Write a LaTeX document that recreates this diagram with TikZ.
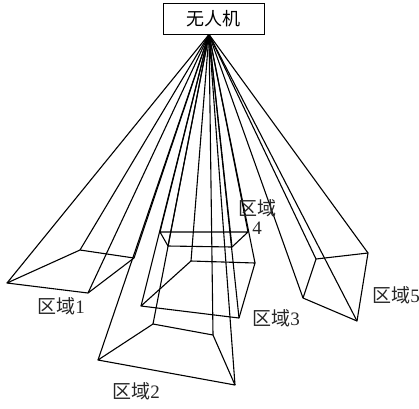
\documentclass[tikz,border=0pt]{standalone}
\usepackage{fontspec}
\newfontfamily\cjk{Noto Sans CJK SC}
\setmainfont{Liberation Serif}
\tikzset{
  edge/.style={draw=black,line width=1.1pt,line join=round},
  dronebox/.style={draw=black,line width=1pt,minimum width=101pt,minimum height=31pt,inner sep=0pt,font=\cjk\fontsize{18}{20}\selectfont},
  lab/.style={inner sep=0pt,font=\fontsize{19}{22}\selectfont,text=black!85}
}
\begin{document}
\begin{tikzpicture}[x=1pt,y=-1pt]
\useasboundingbox (0,0) rectangle (419,408);
\node[dronebox] (drone) at (213.5,18.5) {无人机};
\coordinate (apex) at (209,34.5);
% region 1
\coordinate (a1) at (7,283);
\coordinate (a2) at (88,293);
\coordinate (a3) at (134,258);
\coordinate (a4) at (80,250);
% region 2
\coordinate (b1) at (98,360);
\coordinate (b2) at (235,385);
\coordinate (b3) at (213,335);
\coordinate (b4) at (153,324);
% region 3
\coordinate (c1) at (141,306);
\coordinate (c2) at (239,318);
\coordinate (c3) at (255,263);
\coordinate (c4) at (191,261);
% region 4
\coordinate (d1) at (160,232);
\coordinate (d2) at (248,232);
\coordinate (d3) at (232,247);
\coordinate (d4) at (168,246);
% region 5
\coordinate (e1) at (303,298);
\coordinate (e2) at (357,321);
\coordinate (e3) at (368,253);
\coordinate (e4) at (316,259);
\foreach \r in {a,b,c,d,e}{
  \draw[edge] (\r1) -- (\r2) -- (\r3) -- (\r4) -- cycle;
  \foreach \i in {1,2,3,4}{
    \draw[edge] (apex) -- (\r\i);
  }
}
\node[lab] (l1) at (61,306) {{\cjk 区域}1};
\node[lab] (l2) at (136,391) {{\cjk 区域}2};
\node[lab] (l3) at (276,318) {{\cjk 区域}3};
\node[lab] (l4) at (257,208) {\cjk 区域};
\node[lab] (l4b) at (257,228) {4};
\node[lab] (l5) at (396,295) {{\cjk 区域}5};
\end{tikzpicture}
\end{document}
